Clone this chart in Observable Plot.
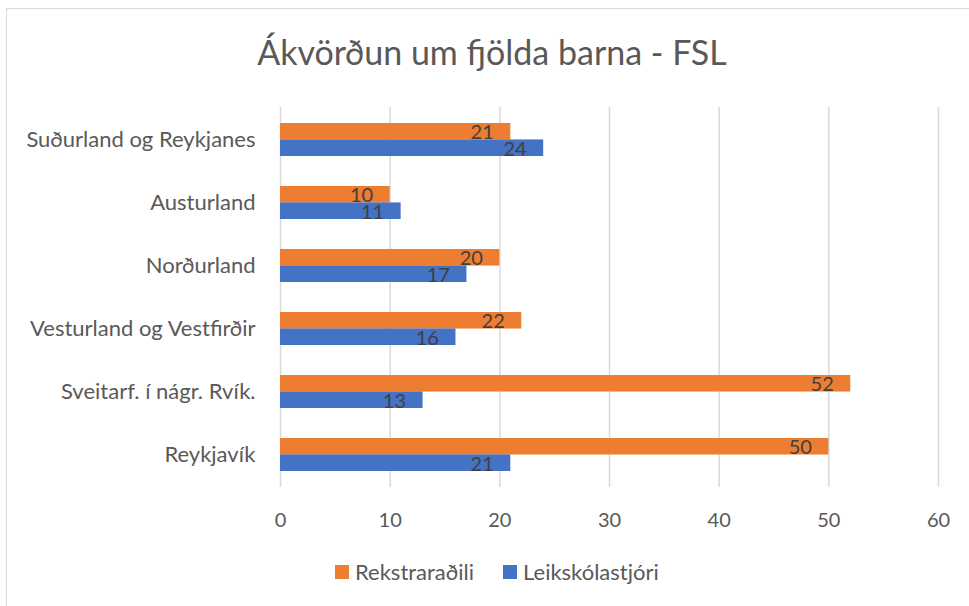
<!DOCTYPE html>
<html>
<head>
<meta charset="utf-8">
<script src="https://cdn.jsdelivr.net/npm/d3@7"></script>
<script src="https://cdn.jsdelivr.net/npm/@observablehq/plot@0.6"></script>
<style>
  body { margin: 0; background: #fff; font-family: Lato, "Open Sans", sans-serif; }
  #wrap { position: relative; width: 969px; height: 606px; overflow: hidden; background: #fff; }
  #frame { position: absolute; left: 6px; top: 8px; width: 1000px; height: 700px; border: 1.5px solid #d9d9d9; box-sizing: border-box; }
  #title { position: absolute; top: 31px; left: 0; width: 984px; text-align: center; font-size: 34px; color: #595959; line-height: 42px; }
  #chart { position: absolute; left: 0; top: 90px; }
  #legend { position: absolute; top: 558px; left: 335px; display: flex; align-items: center; font-size: 22px; color: #595959; }
  .sw { display: inline-block; width: 14px; height: 14px; margin-right: 6px; }
  .item { display: flex; align-items: center; margin-right: 29px; }
</style>
</head>
<body>
<div id="wrap">
  <div id="frame"></div>
  <div id="title">Ákvörðun um fjölda barna - FSL</div>
  <div id="chart"></div>
  <div id="legend"></div>
</div>
<script>
const categories = ["Suðurland og Reykjanes", "Austurland", "Norðurland", "Vesturland og Vestfirðir", "Sveitarf. í nágr. Rvík.", "Reykjavík"];
const rekstraradili = [21, 10, 20, 22, 52, 50];
const leikskolastjori = [24, 11, 17, 16, 13, 21];
const seriesNames = ["Rekstraraðili", "Leikskólastjóri"];
const seriesColors = ["#ED7D31", "#4472C4"];
const xTicks = [0, 10, 20, 30, 40, 50, 60];

const orange = categories.map((c, i) => ({category: c, value: rekstraradili[i]}));
const blue = categories.map((c, i) => ({category: c, value: leikskolastjori[i]}));

const half = 16.45;

const chart = Plot.plot({
  width: 969,
  height: 450,
  marginLeft: 280,
  marginRight: 31,
  marginTop: 17,
  marginBottom: 53,
  style: { fontFamily: "Lato, 'Open Sans', sans-serif", color: "#595959", background: "transparent" },
  x: { domain: [0, 60], ticks: xTicks },
  y: { domain: categories, paddingInner: 0.48, paddingOuter: 0.24 },
  marks: [
    Plot.gridX(xTicks, { stroke: "#d9d9d9", strokeOpacity: 1, strokeWidth: 1.5 }),
    Plot.barX(orange, { x: "value", y: "category", fill: seriesColors[0], insetBottom: half, insetTop: 0 }),
    Plot.barX(blue, { x: "value", y: "category", fill: seriesColors[1], insetTop: half, insetBottom: 0 }),
    Plot.text(orange, { x: "value", y: "category", text: d => String(d.value), textAnchor: "end", dx: -17, dy: -7, fontSize: 20, fill: "#404040" }),
    Plot.text(blue, { x: "value", y: "category", text: d => String(d.value), textAnchor: "end", dx: -17, dy: 9.5, fontSize: 20, fill: "#404040" }),
    Plot.axisX({ ticks: xTicks, tickSize: 0, tickPadding: 25, fontSize: 20, label: null }),
    Plot.axisY({ tickSize: 0, tickPadding: 25, fontSize: 22, label: null })
  ]
});
document.getElementById("chart").appendChild(chart);

const legend = document.getElementById("legend");
seriesNames.forEach((name, i) => {
  const item = document.createElement("div");
  item.className = "item";
  const sw = document.createElement("span");
  sw.className = "sw";
  sw.style.background = seriesColors[i];
  item.appendChild(sw);
  item.appendChild(document.createTextNode(name));
  legend.appendChild(item);
});
</script>
</body>
</html>
